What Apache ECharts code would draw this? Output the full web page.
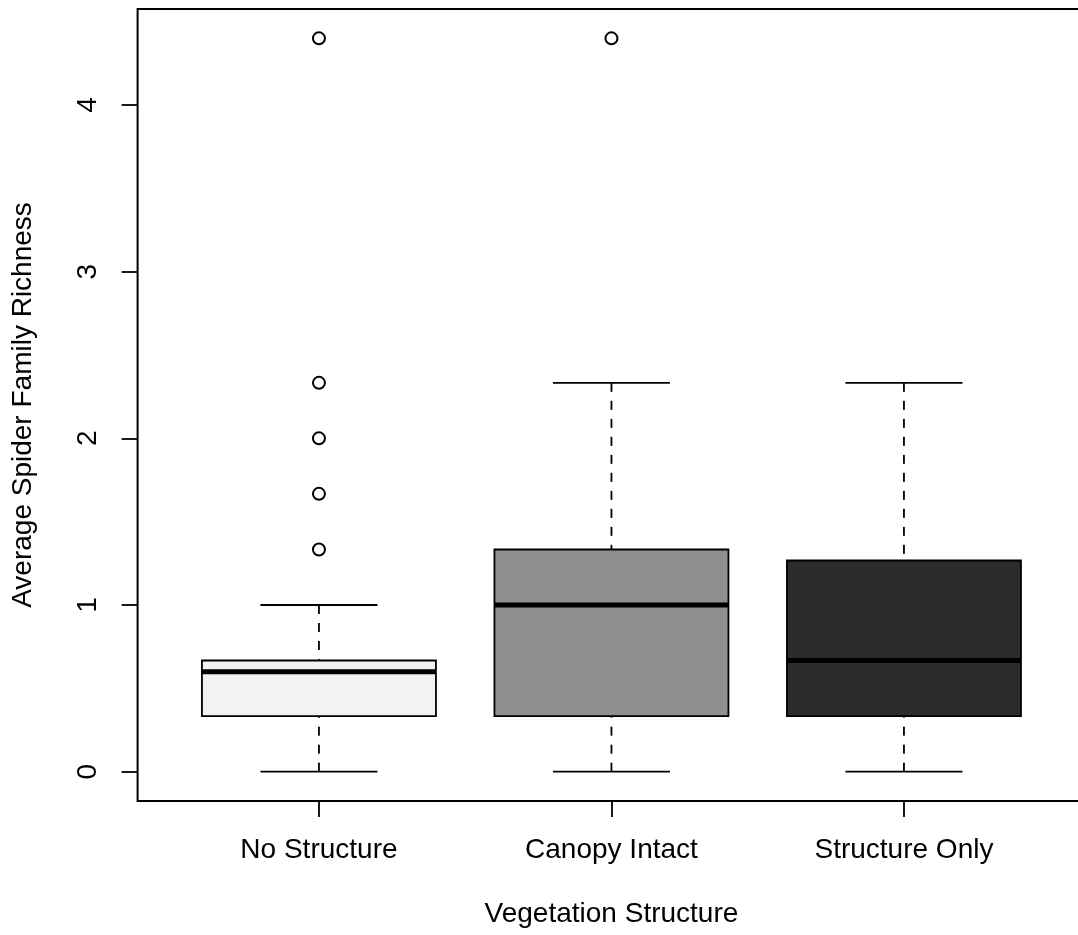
<!DOCTYPE html>
<html>
<head>
<meta charset="utf-8">
<script src="https://cdn.jsdelivr.net/npm/echarts@6/dist/echarts.min.js"></script>
<style>
  html, body { margin: 0; padding: 0; background: #fff; }
  #chart { width: 1078px; height: 935px; }
</style>
</head>
<body>
<div id="chart"></div>
<script>
// ---- data ----
const categories = ['No Structure', 'Canopy Intact', 'Structure Only'];
const whiskerLow  = [0, 0, 0];
const q1          = [0.333, 0.333, 0.333];
const medians     = [0.6, 1.0, 0.667];
const q3          = [0.667, 1.333, 1.267];
const whiskerHigh = [1.0, 2.333, 2.333];
const outliersNoStructure   = [4.4, 2.333, 2.0, 1.667, 1.333];
const outliersCanopyIntact  = [4.4];
const outliersStructureOnly = [];
const yTicks = [0, 1, 2, 3, 4];
const xTitle = 'Vegetation Structure';
const yTitle = 'Average Spider Family Richness';

// ---- styles ----
const boxFills = ['#f2f2f2', '#8f8f8f', '#2b2b2b'];
const FONT = "'Liberation Sans', Arial, sans-serif";

const xPositions = categories.map((c, i) => i + 1);
const boxData = categories.map((c, i) => [xPositions[i], whiskerLow[i], q1[i], medians[i], q3[i], whiskerHigh[i]]);
const outlierLists = [outliersNoStructure, outliersCanopyIntact, outliersStructureOnly];
const outlierData = [];
outlierLists.forEach((list, i) => list.forEach(v => outlierData.push([xPositions[i], v])));

const chart = echarts.init(document.getElementById('chart'), null, { renderer: 'canvas' });

function renderBox(params, api) {
  const i = params.dataIndex;
  const x = api.value(0);
  const lo = api.value(1), a = api.value(2), m = api.value(3), b = api.value(4), hi = api.value(5);
  const hw = 0.4, cw = 0.2;
  const lw = 1.8;
  const P = (xx, yy) => api.coord([xx, yy]);
  const seg = (p1, p2, style) => ({ type: 'line', shape: { x1: p1[0], y1: p1[1], x2: p2[0], y2: p2[1] }, style: style });
  const dashed = { stroke: '#000', lineWidth: lw, lineDash: [9, 9], fill: null };
  const solid = { stroke: '#000', lineWidth: lw, fill: null };
  const tl = P(x - hw, b), br = P(x + hw, a);
  return {
    type: 'group',
    children: [
      seg(P(x, hi), P(x, b), dashed),
      seg(P(x, lo), P(x, a), dashed),
      seg(P(x - cw, hi), P(x + cw, hi), solid),
      seg(P(x - cw, lo), P(x + cw, lo), solid),
      { type: 'rect', shape: { x: tl[0], y: tl[1], width: br[0] - tl[0], height: br[1] - tl[1] },
        style: { fill: boxFills[i], stroke: '#000', lineWidth: lw } },
      seg(P(x - hw, m), P(x + hw, m), { stroke: '#000', lineWidth: 5, fill: null })
    ]
  };
}

const option = {
  animation: false,
  backgroundColor: '#fff',
  textStyle: { fontFamily: FONT },
  grid: {
    left: 137.6, top: 9, width: 947.7, height: 792,
    containLabel: false, outerBoundsMode: 'none',
    show: true, borderColor: '#000', borderWidth: 2, backgroundColor: 'transparent'
  },
  xAxis: {
    type: 'value', min: 0.38, max: 3.62,
    axisLine: { show: false, onZero: false },
    splitLine: { show: false },
    axisTick: { show: true, customValues: xPositions, length: 16, inside: false, lineStyle: { color: '#000', width: 1.8 } },
    axisLabel: {
      customValues: xPositions, margin: 35, fontSize: 28, color: '#000', fontFamily: FONT,
      formatter: v => categories[Math.round(v) - 1] || ''
    },
    name: xTitle, nameLocation: 'middle', nameGap: 99,
    nameTextStyle: { fontSize: 28, color: '#000', fontFamily: FONT }
  },
  yAxis: {
    type: 'value', min: -0.176, max: 4.576,
    axisLine: { show: false, onZero: false },
    splitLine: { show: false },
    axisTick: { show: true, customValues: yTicks, length: 16, inside: false, lineStyle: { color: '#000', width: 1.8 } },
    axisLabel: {
      customValues: yTicks, margin: 35, fontSize: 28, color: '#000', rotate: 90, fontFamily: FONT,
      formatter: v => String(v)
    },
    name: yTitle, nameLocation: 'middle', nameGap: 100,
    nameTextStyle: { fontSize: 28, color: '#000', fontFamily: FONT }
  },
  series: [
    {
      type: 'custom',
      renderItem: renderBox,
      data: boxData,
      encode: { x: 0, y: [1, 2, 3, 4, 5] },
      silent: true,
      clip: false,
      z: 2
    },
    {
      type: 'scatter',
      data: outlierData,
      symbol: 'circle',
      symbolSize: 12,
      itemStyle: { color: 'rgba(0,0,0,0)', borderColor: '#000', borderWidth: 2, opacity: 1 },
      silent: true,
      z: 3
    }
  ]
};
chart.setOption(option);
</script>
</body>
</html>
